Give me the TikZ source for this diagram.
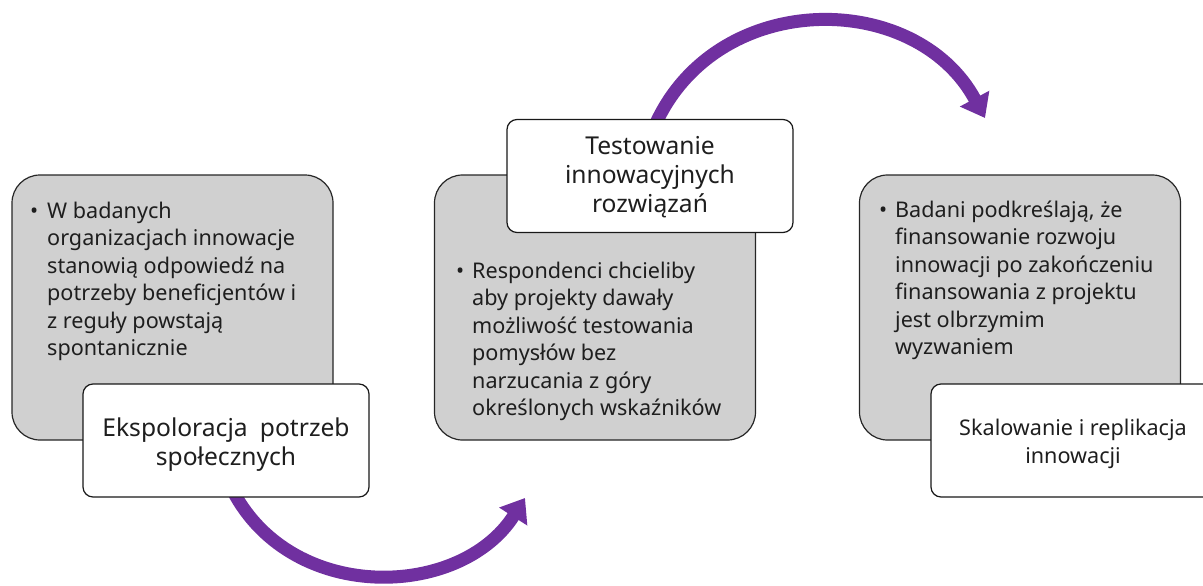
\documentclass[tikz,border=0pt]{standalone}
\usepackage{fontspec}
\setmainfont{Noto Sans}
\usetikzlibrary{arrows.meta}
\definecolor{arrowpurple}{HTML}{7030A0}
\definecolor{boxgray}{HTML}{D0D0D0}
\definecolor{txt}{HTML}{1E1E1E}
\begin{document}
\begin{tikzpicture}[x=1pt,y=-1pt,
  graybox/.style={draw=black!85, line width=1.2pt, fill=boxgray, rounded corners=28pt, inner sep=0, minimum width=321pt, minimum height=265pt},
  whitebox/.style={draw=black!90, line width=1.2pt, fill=white, rounded corners=10pt, inner sep=0, minimum width=286pt, minimum height=113pt},
  whitetext/.style={inner sep=0, align=center, text=txt},
  bodytext/.style={anchor=base west, inner sep=0, font=\fontsize{21.6}{27.5}\selectfont, text=txt},
  bulletmark/.style={anchor=base west, inner sep=0, font=\fontsize{21.6}{27.5}\selectfont, text=txt},
  flow/.style={draw=arrowpurple, line width=13pt, -{Triangle[length=22pt,width=32pt]}}
]
\useasboundingbox (0,0) rectangle (1203,586);
\clip (0,0) rectangle (1203,586);
% arrows (behind boxes)
\coordinate (s1) at (230,485);
\coordinate (e1) at (525,498);
\coordinate (s2) at (653,130);
\coordinate (e2) at (985,118);
\draw[flow] (s1) .. controls (287,605) and (460,600) .. (e1);
\draw[flow] (s2) .. controls (712,-12) and (915,-12) .. (e2);
% box 1
\node[graybox] (g1) at (172.5,307.5) {};
\node[bulletmark] (b1) at (30,218) {•};
\node[bodytext] (t1) at (47,218) {\parbox[t]{290pt}{\raggedright W badanych\\organizacjach innowacje\\stanowią odpowiedź na\\potrzeby beneficjentów i\\z reguły powstają\\spontanicznie}};
\node[whitebox] (w1) at (226,440.5) {};
\node[whitetext, font=\fontsize{24.6}{28.4}\selectfont] (l1) at (226,444.5) {Ekspoloracja\hspace{0.5em}potrzeb\\społecznych};
% box 2
\node[graybox] (g2) at (595,307.5) {};
\node[bulletmark] (b2) at (456,278) {•};
\node[bodytext] (t2) at (472,278) {\parbox[t]{290pt}{\raggedright Respondenci chcieliby\\aby projekty dawały\\możliwość testowania\\pomysłów bez\\narzucania z góry\\określonych wskaźników}};
\node[whitebox] (w2) at (650,176) {};
\node[whitetext, font=\fontsize{24.6}{29}\selectfont] (l2) at (650,177.5) {Testowanie\\innowacyjnych\\rozwiązań};
% box 3
\node[graybox] (g3) at (1020,307.5) {};
\node[bulletmark] (b3) at (879,217) {•};
\node[bodytext] (t3) at (895,217) {\parbox[t]{300pt}{\raggedright Badani podkreślają, że\\finansowanie rozwoju\\innowacji po zakończeniu\\finansowania z projektu\\jest olbrzymim\\wyzwaniem}};
\node[whitebox] (w3) at (1074,440.5) {};
\node[whitetext, font=\fontsize{21.6}{27.3}\selectfont] (l3) at (1073,444) {Skalowanie i replikacja\\innowacji};
\end{tikzpicture}
\end{document}
